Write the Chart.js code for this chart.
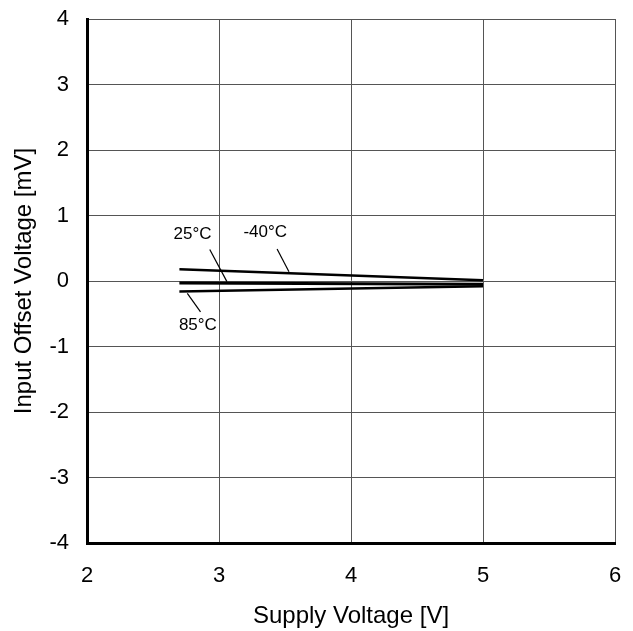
<!DOCTYPE html>
<html>
<head>
<meta charset="utf-8">
<script src="https://cdn.jsdelivr.net/npm/chart.js@4"></script>
<style>
  html, body { margin: 0; padding: 0; background: #fff; }
  #wrap { width: 633px; height: 631px; }
</style>
</head>
<body>
<div id="wrap"><canvas id="chart"></canvas></div>
<script>
// supply voltage [V] -> input offset voltage [mV]
const supplyV = [2.7, 5.0];
const offsetM40 = [0.18, 0.01];
const offset25 = [-0.03, -0.05];
const offset85 = [-0.16, -0.08];

const xTicks = [2, 3, 4, 5, 6];
const yTicks = [-4, -3, -2, -1, 0, 1, 2, 3, 4];

// curve labels (data units) with leader lines
const labelTexts = ['25°C', '-40°C', '85°C'];
const labelX = [2.8, 3.35, 2.84];
const labelY = [0.71, 0.75, -0.68];
const leaderFrom = [[2.93, 0.48], [3.44, 0.49], [2.76, -0.19]];
const leaderTo = [[3.06, -0.01], [3.53, 0.14], [2.86, -0.47]];

const FONT = '"Liberation Sans", Arial, sans-serif';
const ctx = document.getElementById('chart').getContext('2d');

const curveLabels = {
    id: 'curveLabels',
    afterDatasetsDraw(chart) {
        const c = chart.ctx;
        const xs = chart.scales.x, ys = chart.scales.y;
        c.save();
        c.strokeStyle = '#000';
        c.lineWidth = 1.2;
        for (let i = 0; i < labelTexts.length; i++) {
            c.beginPath();
            c.moveTo(xs.getPixelForValue(leaderFrom[i][0]), ys.getPixelForValue(leaderFrom[i][1]));
            c.lineTo(xs.getPixelForValue(leaderTo[i][0]), ys.getPixelForValue(leaderTo[i][1]));
            c.stroke();
        }
        c.fillStyle = '#000';
        c.font = '17px ' + FONT;
        c.textAlign = 'center';
        c.textBaseline = 'middle';
        for (let i = 0; i < labelTexts.length; i++) {
            c.fillText(labelTexts[i], xs.getPixelForValue(labelX[i]), ys.getPixelForValue(labelY[i]));
        }
        c.restore();
    }
};

function series(vals) {
    return supplyV.map((v, i) => ({ x: v, y: vals[i] }));
}

new Chart(ctx, {
    type: 'line',
    data: {
        datasets: [
            { label: '-40°C', data: series(offsetM40), borderColor: '#000', borderWidth: 2.5, pointRadius: 0, fill: false },
            { label: '25°C', data: series(offset25), borderColor: '#000', borderWidth: 3, pointRadius: 0, fill: false },
            { label: '85°C', data: series(offset85), borderColor: '#000', borderWidth: 2.5, pointRadius: 0, fill: false }
        ]
    },
    options: {
        responsive: true,
        maintainAspectRatio: false,
        animation: false,
        layout: { padding: { left: 0, right: 18, top: 19, bottom: 0 } },
        plugins: {
            legend: { display: false },
            tooltip: { enabled: false }
        },
        scales: {
            x: {
                type: 'linear',
                min: 2, max: 6,
                afterBuildTicks: (axis) => { axis.ticks = xTicks.map(v => ({ value: v })); },
                afterFit: (axis) => {
                    axis.height = 88;
                    axis.paddingLeft = 0;
                    axis.paddingRight = 0;
                },
                grid: { color: '#555', lineWidth: 1, drawTicks: false },
                border: { color: '#000', width: 3 },
                ticks: { color: '#000', padding: 20, font: { size: 22, family: FONT } },
                title: {
                    display: true,
                    text: 'Supply Voltage [V]',
                    color: '#000',
                    padding: { top: 0, bottom: 0 },
                    font: { size: 24, family: FONT }
                }
            },
            y: {
                type: 'linear',
                min: -4, max: 4,
                afterBuildTicks: (axis) => { axis.ticks = yTicks.map(v => ({ value: v })); },
                afterFit: (axis) => {
                    axis.width = 87;
                    axis.paddingTop = 0;
                    axis.paddingBottom = 0;
                },
                grid: { color: '#555', lineWidth: 1, drawTicks: false },
                border: { color: '#000', width: 3 },
                ticks: { color: '#000', padding: 18, font: { size: 22, family: FONT } },
                title: {
                    display: true,
                    text: 'Input Offset Voltage [mV]',
                    color: '#000',
                    padding: { top: 10, bottom: 0 },
                    font: { size: 24, family: FONT }
                }
            }
        }
    },
    plugins: [curveLabels]
});
</script>
</body>
</html>
